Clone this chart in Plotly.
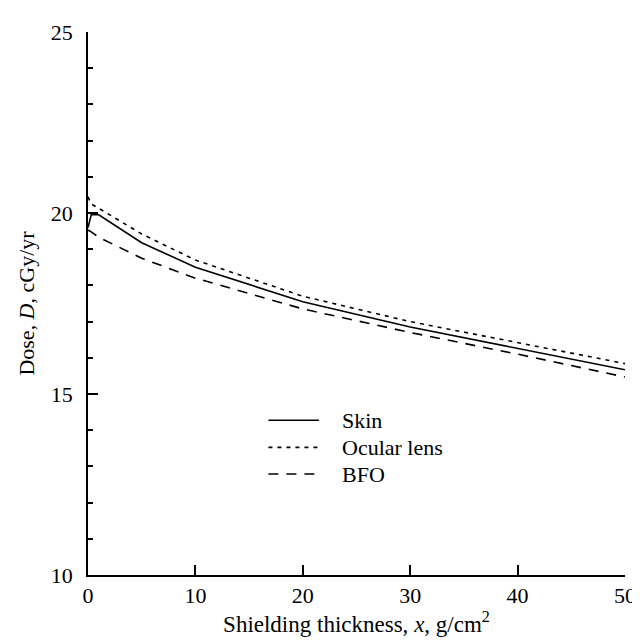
import plotly.graph_objects as go

# ---- data ----
thickness = [0, 0.3, 1, 5, 10, 20, 30, 40, 50]
skin = [19.6, 19.95, 19.95, 19.18, 18.5, 17.55, 16.85, 16.25, 15.67]
ocular = [20.45, 20.25, 20.13, 19.42, 18.7, 17.7, 17.0, 16.42, 15.84]
bfo = [19.53, 19.48, 19.33, 18.75, 18.2, 17.35, 16.7, 16.1, 15.47]
series_names = ["Skin", "Ocular lens", "BFO"]
x_ticks = [0, 10, 20, 30, 40, 50]
y_ticks = [10, 15, 20, 25]

FONT = "Liberation Serif"
FS = 22
dashes = ["solid", "4px,5px", "10px,8px"]

fig = go.Figure()
for name, ys, d in zip(series_names, [skin, ocular, bfo], dashes):
    fig.add_trace(go.Scatter(x=thickness, y=ys, mode="lines", name=name,
                             line=dict(color="black", width=1.6, dash=d),
                             showlegend=False))

# custom legend (line samples + labels)
leg_x0, leg_x1, leg_tx = 0.336, 0.43, 0.469
leg_ys = [0.285, 0.235, 0.186]
for name, d, ly in zip(series_names, dashes, leg_ys):
    fig.add_shape(type="line", xref="paper", yref="paper", x0=leg_x0, x1=leg_x1,
                  y0=ly, y1=ly, line=dict(color="black", width=1.6, dash=d))
    fig.add_annotation(xref="paper", yref="paper", x=leg_tx, y=ly, text=name,
                       showarrow=False, xanchor="left", yanchor="middle",
                       font=dict(family=FONT, size=FS, color="black"))

axis_common = dict(showgrid=False, zeroline=False, showline=True, linecolor="black",
                   linewidth=1.5, ticks="inside", tickcolor="black", tickwidth=1.5,
                   ticklen=10, tickfont=dict(family=FONT, size=FS, color="black"))

fig.update_xaxes(range=[0, 50], tickvals=x_ticks,
                 title=dict(text="Shielding thickness, <i>x</i>, g/cm<sup>2</sup>",
                            font=dict(family=FONT, size=23, color="black"), standoff=6),
                 **axis_common)
fig.update_yaxes(range=[10, 25], tickvals=y_ticks,
                 minor=dict(dtick=1, ticks="inside", ticklen=5, tickcolor="black", tickwidth=1.5),
                 title=dict(text="Dose, <i>D</i>, cGy/yr",
                            font=dict(family=FONT, size=FS, color="black"), standoff=10),
                 ticklabelstandoff=9,
                 **axis_common)

fig.update_layout(width=640, height=641, margin=dict(l=80, r=12, t=18, b=74),
                  plot_bgcolor="white", paper_bgcolor="white",
                  font=dict(family=FONT, size=FS, color="black"))

fig.write_html("out.html")
